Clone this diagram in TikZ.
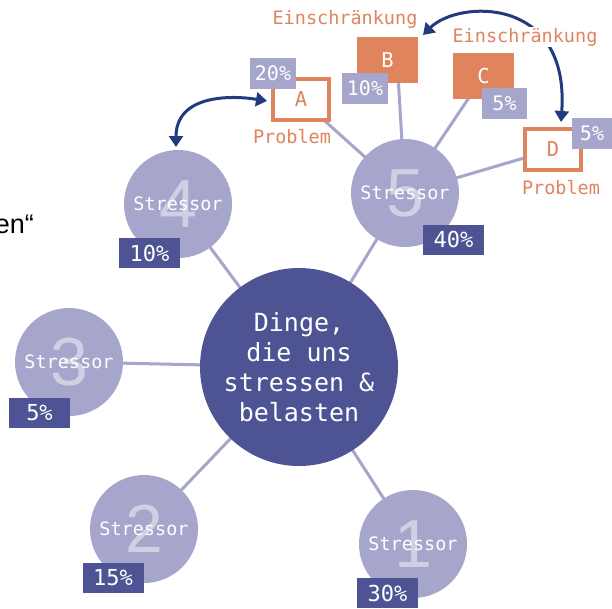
\documentclass[tikz,border=0pt]{standalone}
\usepackage{fontspec}
\setmonofont{DejaVu Sans Mono}
\newfontfamily\digitfont{Liberation Sans}
\newfontfamily\bodyfont{Liberation Sans}
\usetikzlibrary{arrows.meta,backgrounds}
\definecolor{lav}{HTML}{A6A5CB}
\definecolor{navy}{HTML}{4E5394}
\definecolor{rust}{HTML}{E0845E}
\definecolor{arrowblue}{HTML}{243A7E}
\definecolor{ghost}{HTML}{D0D0E4}

\begin{document}
\begin{tikzpicture}[x=1pt,y=-1pt,
  stressor/.style={circle, fill=lav, minimum size=108pt, inner sep=0},
  hub/.style={circle, fill=navy, minimum size=198pt, inner sep=0, text=white,
    font=\ttfamily\fontsize{25}{30}\selectfont, align=center},
  bignum/.style={text=ghost, font=\digitfont\fontsize{68}{68}\selectfont, inner sep=0},
  stlabel/.style={text=white, font=\ttfamily\fontsize{18.5}{18.5}\selectfont, inner sep=0},
  share/.style={fill=navy, text=white, minimum width=61pt, minimum height=30pt,
    inner sep=0, font=\ttfamily\fontsize{22}{22}\selectfont},
  subshare/.style={fill=lav, text=white, minimum width=46pt, minimum height=31pt,
    inner sep=0, font=\ttfamily\fontsize{20}{20}\selectfont},
  problem/.style={draw=rust, line width=4pt, fill=white, minimum width=56pt,
    minimum height=41pt, inner sep=0, text=rust, font=\ttfamily\fontsize{20.5}{20.5}\selectfont},
  limit/.style={fill=rust, minimum width=61pt, minimum height=46pt, inner sep=0,
    text=white, font=\ttfamily\fontsize{20.5}{20.5}\selectfont},
  tag/.style={text=rust, font=\ttfamily\fontsize{18.5}{18.5}\selectfont, inner sep=1pt},
  link/.style={draw=lav, line width=3pt},
  swap/.style={draw=arrowblue, line width=3pt,
    {Triangle[length=11pt,width=14pt]}-{Triangle[length=11pt,width=14pt]}}
]
\path[use as bounding box] (0,0) rectangle (612,608);

% cut-off text at the left margin
\node[anchor=base east, inner sep=0, font=\bodyfont\fontsize{27}{27}\selectfont] (cut) at (34,233) {en“};

% hub and stressors
\node[hub] (hub) at (299,367) {Dinge,\\die uns\\stressen \&\\belasten};
\node[stressor] (s4) at (178,204) {};
\node[stressor] (s3) at (69,362) {};
\node[stressor] (s2) at (144,529) {};
\node[stressor] (s1) at (413,544) {};
\node[stressor] (s5) at (405,193) {};

% problems and limitations around stressor 5
\node[problem] (A) at (301,99.5) {A};
\node[limit] (B) at (387.5,60) {B};
\node[limit] (C) at (483.5,76) {C};
\node[problem] (D) at (553,149.5) {D};

% white page and connectors behind everything
\begin{pgfonlayer}{background}
  \fill[white] (0,0) rectangle (612,608);
  \foreach \s in {s1,s2,s3,s4,s5}
    \draw[link] (hub.center) -- (\s.center);
  \draw[link] (A.center) -- (s5.center);
  \draw[link] ([xshift=11pt]B.south) -- (s5.center);
  \draw[link] (C.center) -- (s5.center);
  \draw[link] (D.center) -- (s5.center);
\end{pgfonlayer}

% big numbers and labels on the stressors
\foreach \s/\n in {s1/1,s2/2,s3/3,s4/4,s5/5} {
  \node[bignum] (n\s) at (\s.center) {\n};
  \node[stlabel] (l\s) at (\s.center) {Stressor};
}

% shares of the stressors
\node[share] (p4) at (149.5,253) {10\%};
\node[share] (p3) at (39.5,413) {5\%};
\node[share] (p2) at (113,578) {15\%};
\node[share] (p1) at (387.5,593) {30\%};
\node[share] (p5) at (453.5,239.5) {40\%};

% shares of the problems and limitations
\node[subshare] (pA) at (273,73.5) {20\%};
\node[subshare] (pB) at (365,88.5) {10\%};
\node[subshare, minimum width=45pt] (pC) at (504.5,103.5) {5\%};
\node[subshare, minimum width=40pt] (pD) at (592,133) {5\%};

% swap arrows
\coordinate (bTip) at (423,35);
\coordinate (dTip) at (561,122);
\draw[swap] (bTip) .. controls (458,0) and (570,-5) .. (dTip);
\coordinate (aTip) at (267,101);
\coordinate (sTip) at (176,147);
\draw[swap] (sTip) .. controls (176,95) and (230,95) .. (aTip);

% captions
\node[tag] (tB) at (345,19) {Einschränkung};
\node[tag, fill=white] (tD) at (525,37) {Einschränkung};
\node[tag] (tA) at (292,137) {Problem};
\node[tag] (tDp) at (561,188) {Problem};
\end{tikzpicture}
\end{document}
